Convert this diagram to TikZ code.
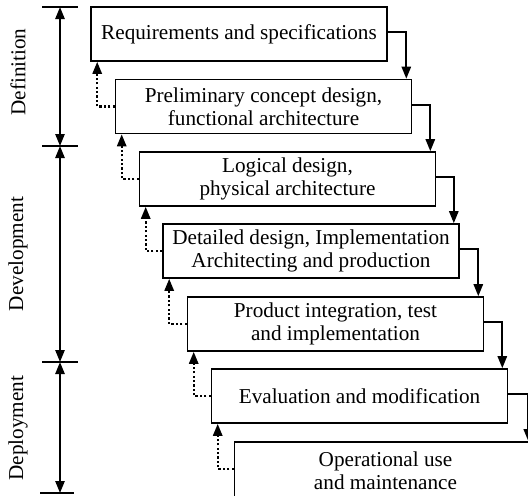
\documentclass[tikz,border=0pt]{standalone}
\usepackage{fontspec}
\setmainfont{Liberation Serif}
\usetikzlibrary{arrows.meta,positioning}
\tikzset{
    phase/.style={
    rectangle,draw=black,line width=0.8pt,fill=white,minimum width=148pt,minimum height=27pt,
    align=center,inner sep=1pt,font=\fontsize{10.6}{11.6}\selectfont
    },
    next/.style={
    ->,line width=1pt
    },
    back/.style={
    ->,line width=1.1pt,dash pattern=on 1.1pt off 1.1pt
    },
    tick/.style={
    line width=1pt
    },
    stage/.style={
    rotate=90,font=\fontsize{10.6}{11.6}\selectfont
    },
}

\begin{document}
\begin{tikzpicture}[x=0.5pt, y=-0.5pt, >={Triangle[length=6pt,width=4.6pt]}]
   \useasboundingbox (0,0) rectangle (528,495);
   \clip (0,0) rectangle (528,495);
   % phases
   \node[phase] (req) at (239,34) {Requirements and specifications};
   \node[phase] (pre) at (263.5,106.5) {Preliminary concept design,\\functional architecture};
   \node[phase] (log) at (287.5,179) {Logical design,\\physical architecture};
   \node[phase] (det) at (311,251) {Detailed design, Implementation\\Architecting and production};
   \node[phase] (int) at (335.5,324) {Product integration, test\\and implementation};
   \node[phase] (eva) at (359.5,396) {Evaluation and modification};
   \node[phase, minimum width=151pt, minimum height=29pt, text depth=0pt] (ope) at (385.5,471) {Operational use\\and maintenance};

   % forward flow
   \draw[next] ([yshift=1pt]req.east) -| ([xshift=-3pt]pre.north east);
   \draw[next] ([yshift=1pt]pre.east) -| ([xshift=-3pt]log.north east);
   \draw[next] ([yshift=1pt]log.east) -| ([xshift=-3pt]det.north east);
   \draw[next] ([yshift=1pt]det.east) -| ([xshift=-3pt]int.north east);
   \draw[next] ([yshift=1pt]int.east) -| ([xshift=-3pt]eva.north east);
   \draw[next] ([yshift=1pt]eva.east) -| ([xshift=-4.5pt]ope.north east);

   % feedback
   \draw[back] (pre.west) -| ([xshift=3.5pt]req.south west);
   \draw[back] (log.west) -| ([xshift=3.5pt]pre.south west);
   \draw[back] (det.west) -| ([xshift=3.5pt]log.south west);
   \draw[back] (int.west) -| ([xshift=3.5pt]det.south west);
   \draw[back] (eva.west) -| ([xshift=3.5pt]int.south west);
   \draw[back] ([yshift=1pt]ope.west) -| ([xshift=3.5pt]eva.south west);

   % life cycle stages
   \coordinate (s0) at (60,7);
   \coordinate (s1) at (60,146);
   \coordinate (s2) at (60,362);
   \coordinate (s3) at (60,493);
   \draw[tick] ([xshift=-9pt]s0) -- ([xshift=9pt]s0);
   \draw[tick] ([xshift=-9pt]s1) -- ([xshift=9pt]s1);
   \draw[tick] ([xshift=-9pt]s2) -- ([xshift=9pt]s2);
   \draw[tick] ([xshift=-10pt]s3) -- ([xshift=7pt]s3);
   \draw[next,<->] (s0) -- (s1);
   \draw[next,<->] (s1) -- (s2);
   \draw[next,<->] (s2) -- (s3);
   \node[stage] (def) at (18,72) {Definition};
   \node[stage] (dev) at (18,254) {Development};
   \node[stage] (dep) at (18,428) {Deployment};
\end{tikzpicture}
\end{document}
